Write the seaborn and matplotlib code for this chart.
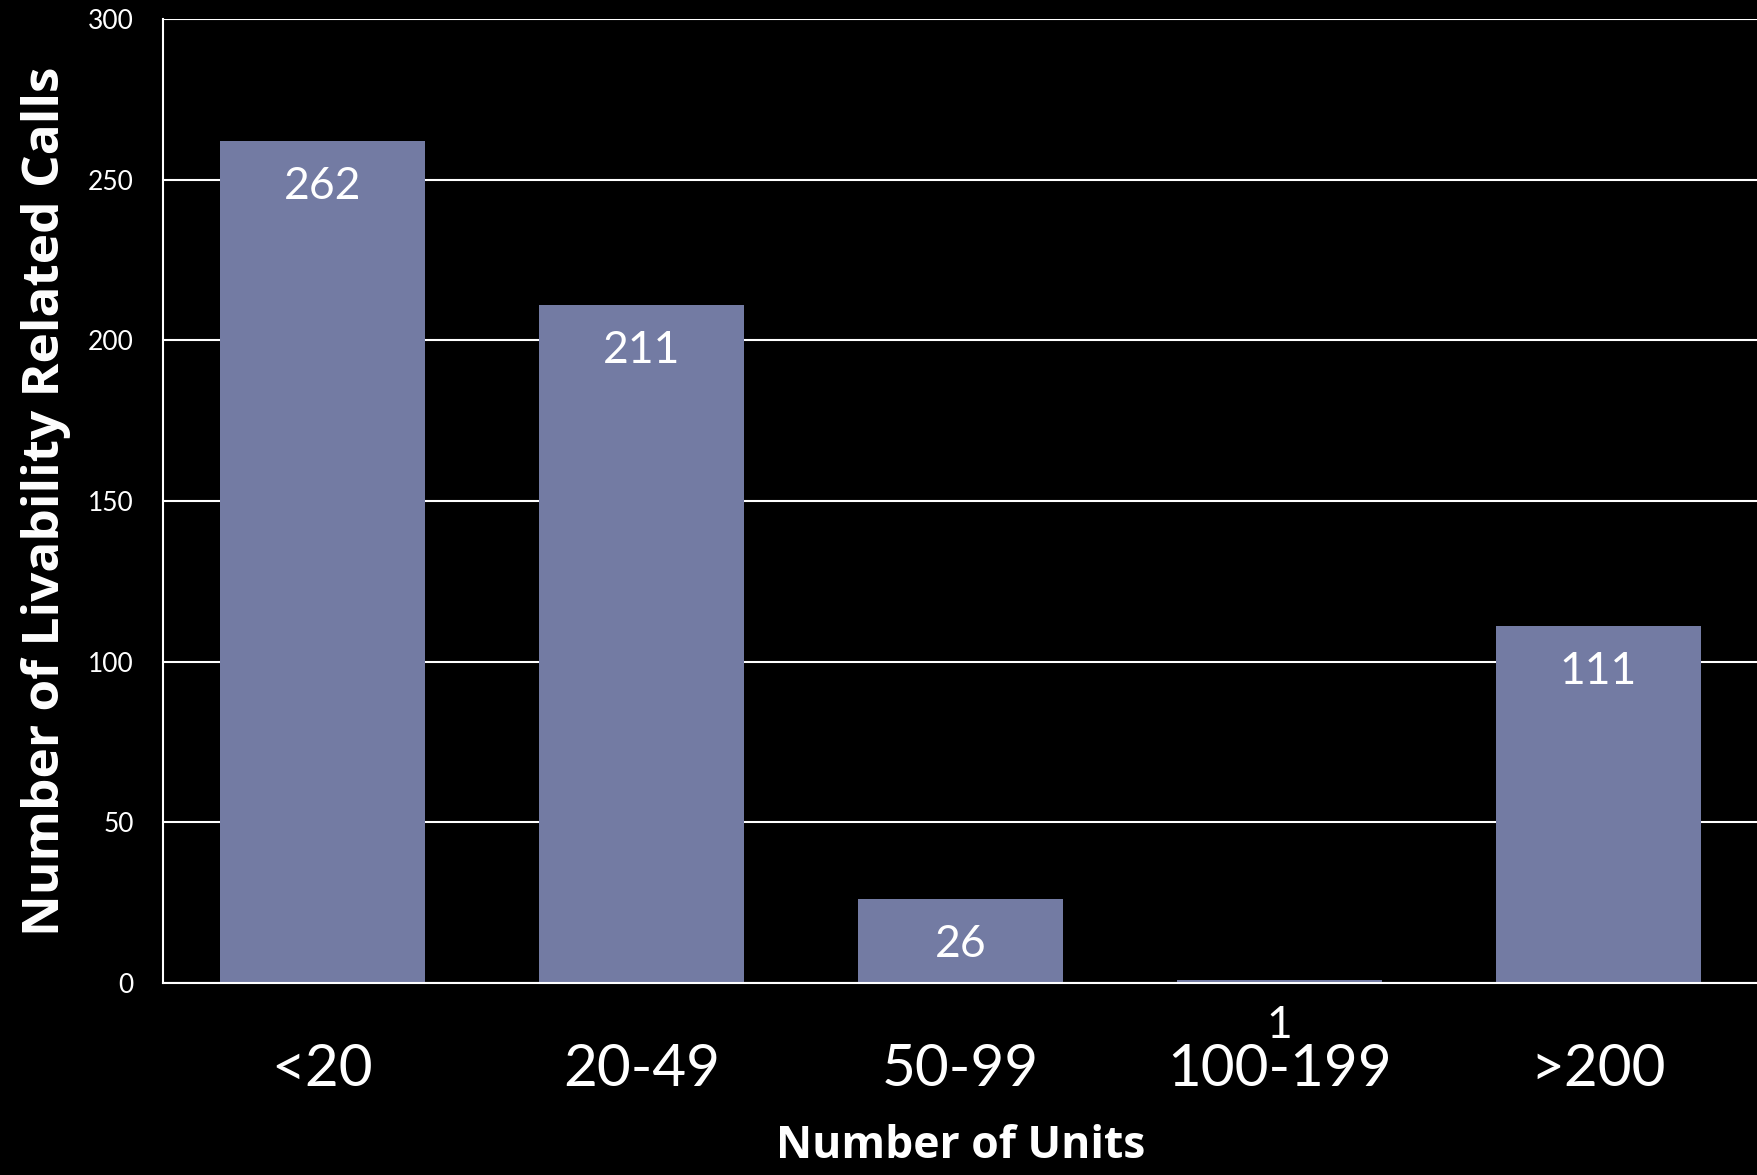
import matplotlib
matplotlib.use('Agg')
import matplotlib.pyplot as plt
import seaborn as sns
import pandas as pd

# Data
categories = ['<20', '20-49', '50-99', '100-199', '>200']
calls = [262, 211, 26, 1, 111]
y_ticks = [0, 50, 100, 150, 200, 250, 300]

bar_color = '#737ba3'

sns.set_theme(style='dark')
plt.rcParams['font.family'] = ['Lato', 'DejaVu Sans']

df = pd.DataFrame({'units': categories, 'calls': calls})

fig = plt.figure(figsize=(17.58, 11.75), dpi=100, facecolor='black')
ax = fig.add_axes([0.0927, 0.1634, 0.9073, 0.8204])
ax.set_facecolor('black')

sns.barplot(data=df, x='units', y='calls', color=bar_color, width=0.643,
            saturation=1, linewidth=0, edgecolor='none', ax=ax, zorder=3)

ax.set_ylim(0, 300)
ax.set_xlim(-0.5, len(categories) - 0.5)
ax.set_yticks(y_ticks)
ax.yaxis.grid(True, color='white', linewidth=1.5, zorder=1)
ax.xaxis.grid(False)
ax.tick_params(axis='y', colors='white', labelsize=19, length=0, pad=21)
ax.tick_params(axis='x', colors='white', labelsize=42, length=0, pad=43)

for side in ['top', 'right']:
    ax.spines[side].set_visible(False)
for side in ['left', 'bottom']:
    ax.spines[side].set_color('white')
    ax.spines[side].set_linewidth(1.5)
    ax.spines[side].set_zorder(4)

# value labels inside the top of each bar
for i, v in enumerate(calls):
    ax.annotate(str(v), (i, v), xytext=(0, -18), textcoords='offset points',
                ha='center', va='top', color='white', fontsize=32, zorder=5)

ax.set_xlabel('Number of Units', color='white', fontsize=32,
              fontweight='bold', family='Open Sans', labelpad=20)
ax.set_ylabel('Number of Livability Related Calls', color='white',
              fontsize=37, fontweight='bold', family='Open Sans', labelpad=12)

fig.savefig('out.png', dpi=100, facecolor='black')
